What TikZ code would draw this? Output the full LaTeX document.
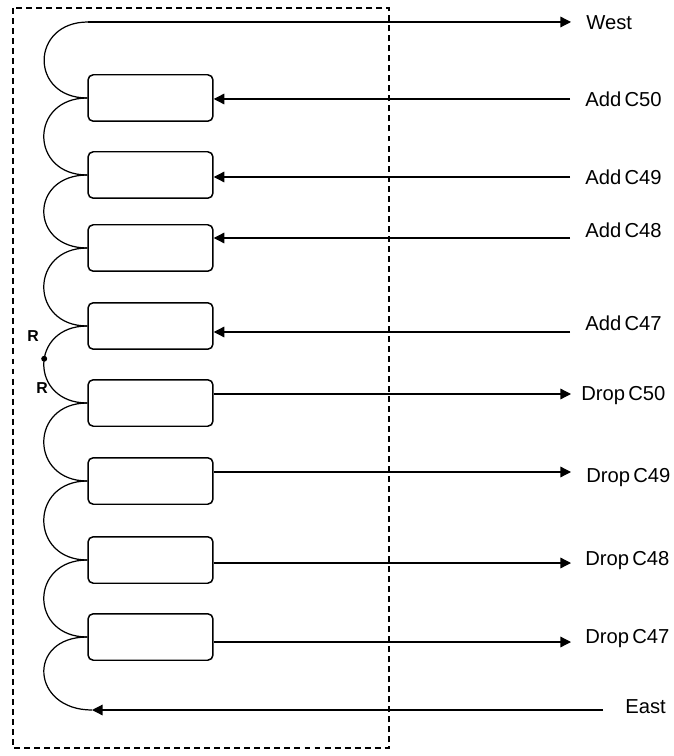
\documentclass[tikz,border=0pt]{standalone}
\usepackage{fontspec}
\setmainfont{Liberation Sans}
\usetikzlibrary{arrows.meta}
\newcommand\tightsp{\spaceskip=0.16em\relax}
\begin{document}
\begin{tikzpicture}[x=0.02cm, y=-0.02cm,
	ring/.style={draw, rounded corners=3pt, minimum width=2.5cm, minimum height=0.93cm, line width=0.85pt, inner sep=0pt},
	fib/.style={line width=0.7pt},
	tip/.style={-{Triangle[length=6pt,width=6pt]}},
	lbl/.style={anchor=base west, inner sep=0pt, font=\fontsize{11.5}{13}\selectfont\tightsp},
	rlbl/.style={inner sep=0pt, font=\bfseries\fontsize{9}{10}\selectfont}]
	\useasboundingbox (0,0) rectangle (673,756);
	\draw[line width=0.6pt, dash pattern=on 3.4pt off 2.3pt] (13,8) rectangle (389,748);
	% rings
	\foreach \i/\y in {1/98,2/175,3/248,4/326,5/403,6/481,7/560,8/637}
		\node[ring] (b\i) at (150.5,\y) {};
	% loop on the left
	\coordinate (top) at (88,22);
	\coordinate (bot) at (92,710);
	\draw[fib] (b1.west) .. controls +(-58,0) and +(-58,0) .. (top);
	\foreach \i/\j in {1/2,2/3,3/4,5/6,6/7,7/8}
		\draw[fib] (b\i.west) .. controls +(-58,0) and +(-58,0) .. (b\j.west);
	\draw[fib] (b4.west) .. controls +(-58,0) and +(-58,0) .. (b5.west)
		node[pos=0.45, circle, fill, inner sep=1.2pt] (rdot) {};
	\draw[fib] (b8.west) .. controls +(-61,0) and +(-61,0) .. (bot);
	\node[rlbl] (r1) at (33,336) {R};
	\node[rlbl] (r2) at (42,388) {R};
	% west and east
	\node[lbl] (west) at (586,30) {West};
	\coordinate (wend) at (571,22);
	\draw[fib,tip] (top) -- (wend);
	\node[lbl] (east) at (625,713) {East};
	\coordinate (estart) at (603,710);
	\draw[fib,tip] (estart) -- (bot);
	% add ports
	\foreach \i/\y/\ly/\txt in {1/99/107/Add C50,2/177/185/Add C49,3/238/238/Add C48,4/332/331/Add C47}{
		\node[lbl] (add\i) at (585,\ly) {\txt};
		\coordinate (ae\i) at (570,\y);
		\draw[fib,tip] (ae\i) -- (ae\i -| b\i.east);
	}
	% drop ports
	\foreach \i/\y/\lx/\ly/\txt in {5/394/581/400/Drop C50,6/472/586/482/Drop C49,7/563/585/565/Drop C48,8/642/585/643/Drop C47}{
		\node[lbl] (drop\i) at (\lx,\ly) {\txt};
		\coordinate (de\i) at (571,\y);
		\draw[fib,tip] (de\i -| b\i.east) -- (de\i);
	}
\end{tikzpicture}
\end{document}
